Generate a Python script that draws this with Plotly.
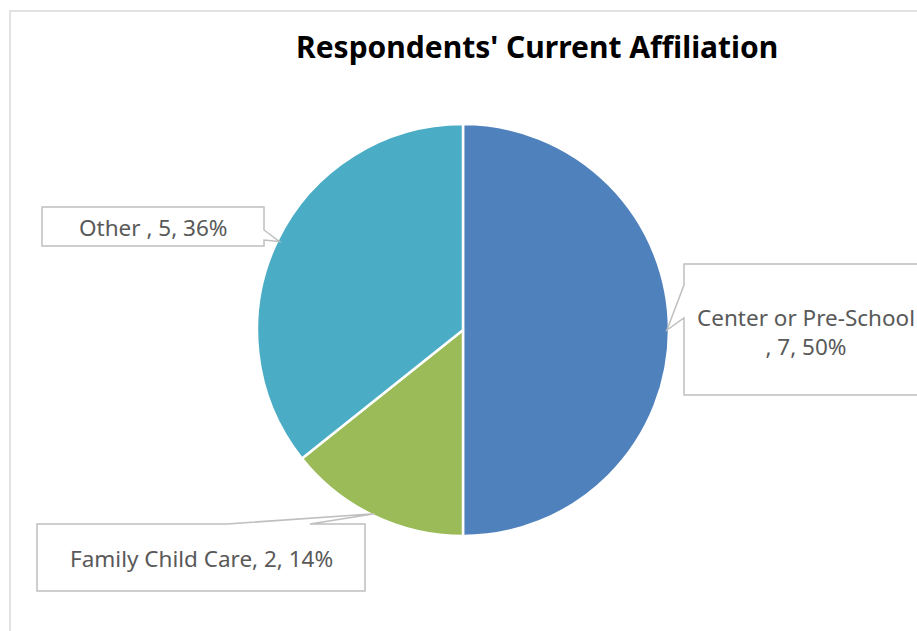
import math
import plotly.graph_objects as go

categories = ["Center or Pre-School", "Family Child Care", "Other "]
values = [7, 2, 5]
colors = ["#4F81BD", "#9BBB59", "#4BACC6"]
title = "Respondents' Current Affiliation"

W, H = 917, 631
CX, CY, R = 463, 330, 206

def px(x):
    return x / W

def py(y):
    return 1 - y / H

fig = go.Figure(go.Pie(
    labels=categories, values=values, sort=False, direction="clockwise", rotation=0,
    marker=dict(colors=colors, line=dict(color="white", width=2.5)),
    textinfo="none", hoverinfo="label+value+percent", showlegend=False,
    domain=dict(x=[px(CX - R), px(CX + R)], y=[py(CY + R), py(CY - R)]),
))

total = sum(values)
# tip points at slice mid-angles (computed from data)
tips = []
cum = 0
for v in values:
    mid = (cum + v / 2) / total * 2 * math.pi
    cum += v
    tips.append((CX + R * 0.99 * math.sin(mid), CY - R * 0.99 * math.cos(mid)))

def P(pts):
    return "M " + " L ".join(f"{px(x):.5f},{py(y):.5f}" for x, y in pts) + " Z"

shapes = []
# outer frame
shapes.append(dict(type="rect", xref="paper", yref="paper", x0=px(10), x1=px(1000), y0=py(700), y1=py(11),
                   line=dict(color="#D9D9D9", width=1.5), fillcolor="rgba(0,0,0,0)", layer="below"))
# Center callout (box left, pointer to the left)
t = tips[0]
shapes.append(dict(type="path", xref="paper", yref="paper",
                   path=P([(684, 264), (940, 264), (940, 395), (684, 395), (684, 318), t, (684, 285)]),
                   line=dict(color="#BFBFBF", width=1.5), fillcolor="white"))
# Family callout (pointer from top edge)
t = tips[1]
shapes.append(dict(type="path", xref="paper", yref="paper",
                   path=P([(37, 524), (227, 524), t, (310, 524), (365, 524), (365, 591), (37, 591)]),
                   line=dict(color="#BFBFBF", width=1.5), fillcolor="white"))
# Other callout (pointer from right edge)
t = tips[2]
shapes.append(dict(type="path", xref="paper", yref="paper",
                   path=P([(42, 207), (264, 207), (264, 230), t, (264, 240), (264, 246), (42, 246)]),
                   line=dict(color="#BFBFBF", width=1.5), fillcolor="white"))

font = dict(family="Noto Sans, Open Sans, sans-serif", size=22.5, color="#595959")
pcts = [round(v / total * 100) for v in values]
texts = [f"{categories[0]}<br>, {values[0]}, {pcts[0]}%"] + \
        [f"{categories[i]}, {values[i]}, {pcts[i]}%" for i in (1, 2)]
annotations = [
    dict(x=px(806), y=py(332), text=texts[0], showarrow=False, xref="paper", yref="paper", font=font,
         xanchor="center", yanchor="middle"),
    dict(x=px(201), y=py(558), text=texts[1], showarrow=False, xref="paper", yref="paper", font=font,
         xanchor="center", yanchor="middle"),
    dict(x=px(153), y=py(228), text=texts[2], showarrow=False, xref="paper", yref="paper", font=font,
         xanchor="center", yanchor="middle"),
    dict(x=px(537), y=py(46), text=f"<b>{title}</b>", showarrow=False, xref="paper", yref="paper",
         font=dict(family="Noto Sans, Open Sans, sans-serif", size=30, color="#000000"),
         xanchor="center", yanchor="middle"),
]

fig.update_layout(width=W, height=H, margin=dict(l=0, r=0, t=0, b=0),
                  paper_bgcolor="white", plot_bgcolor="white",
                  shapes=shapes, annotations=annotations)
fig.write_html("out.html", config={"displayModeBar": False},
               post_script="document.body.style.margin='0';document.body.style.overflow='hidden';")
